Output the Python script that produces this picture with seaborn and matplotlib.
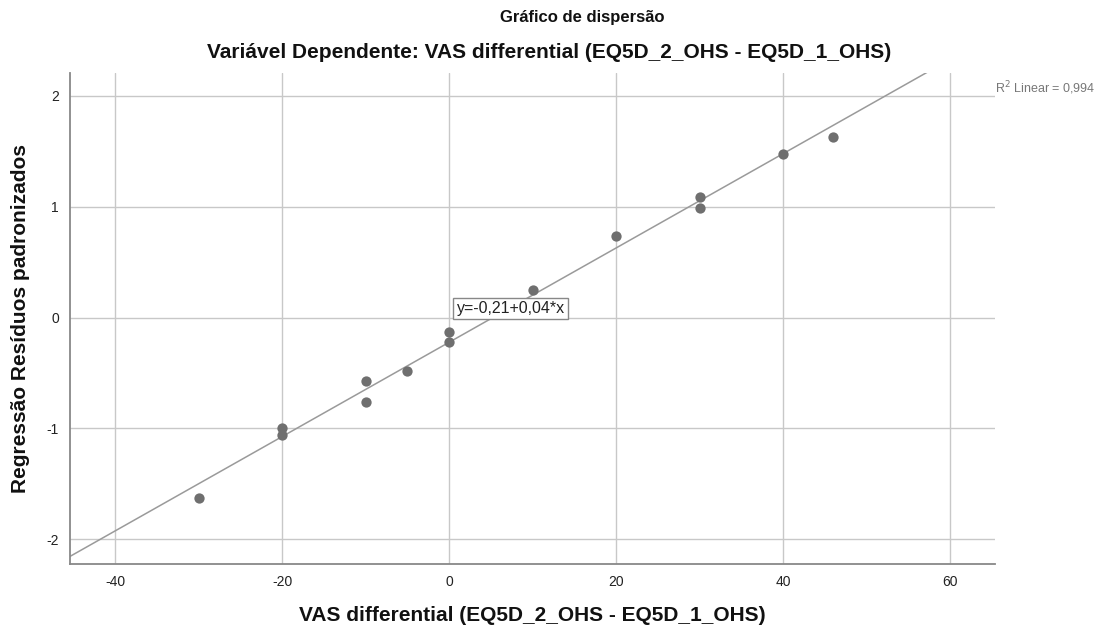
import matplotlib
matplotlib.use("Agg")
import matplotlib.pyplot as plt
import numpy as np
import pandas as pd
import seaborn as sns

# dados
vas_diff = [-30, -20, -20, -10, -10, -5, 0, 0, 10, 20, 30, 30, 40, 46]
residuos = [-1.63, -1.00, -1.06, -0.57, -0.76, -0.48, -0.13, -0.22,
            0.25, 0.74, 1.09, 0.99, 1.48, 1.63]
x_ticks = [-40, -20, 0, 20, 40, 60]
y_ticks = [-2, -1, 0, 1, 2]
equacao = "y=-0,21+0,04*x"
r2_texto = "R$^2$ Linear = 0,994"

df = pd.DataFrame({"x": vas_diff, "y": residuos})

sns.set_theme(style="white")
plt.rcParams["font.family"] = ["Liberation Sans", "DejaVu Sans"]
plt.rcParams["axes.unicode_minus"] = False

fig = plt.figure(figsize=(11.13, 6.37), dpi=100)
ax = fig.add_axes([0.063, 0.115, 0.831, 0.771])
ax.set_xlim(-45.4, 65.4)
ax.set_ylim(-2.22, 2.21)

sns.regplot(data=df, x="x", y="y", ax=ax, ci=None, truncate=False,
            scatter_kws=dict(s=55, color="#6f6f6f", alpha=1, zorder=3, linewidths=0),
            line_kws=dict(color="#9a9a9a", lw=1.1, zorder=2))

ax.set_xticks(x_ticks)
ax.set_yticks(y_ticks)
ax.grid(True, color="#c8c8c8", lw=1)
ax.set_axisbelow(True)
ax.tick_params(length=0, labelsize=10, colors="#222222", pad=8)
for side in ["top", "right"]:
    ax.spines[side].set_visible(False)
for side in ["left", "bottom"]:
    ax.spines[side].set_color("#888888")
    ax.spines[side].set_linewidth(1.3)

ax.set_xlabel("VAS differential (EQ5D_2_OHS - EQ5D_1_OHS)", fontsize=15,
              fontweight="bold", color="#111111", labelpad=12)
ax.set_ylabel("Regressão Resíduos padronizados", fontsize=15,
              fontweight="bold", color="#111111", labelpad=12)

ax.text(0.9, 0.08, equacao, fontsize=11.5, va="center", ha="left",
        color="#222222", zorder=5,
        bbox=dict(boxstyle="square,pad=0.2", fc="white", ec="#888888", lw=1))

fig.text(0.894, 0.862, r2_texto, fontsize=9, color="#777777",
         ha="left", va="center")

fig.text(0.523, 0.972, "Gráfico de dispersão", fontsize=12, fontweight="bold",
         ha="center", va="center", color="#111111")
fig.text(0.493, 0.918, "Variável Dependente: VAS differential (EQ5D_2_OHS - EQ5D_1_OHS)",
         fontsize=15, fontweight="bold", ha="center", va="center", color="#111111")

fig.savefig("out.png", dpi=100)
